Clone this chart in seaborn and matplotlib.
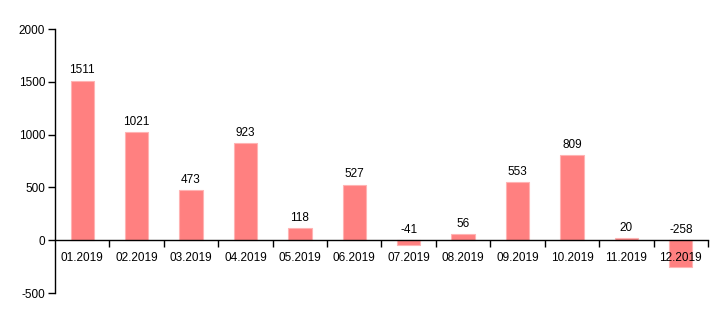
import matplotlib
matplotlib.use("Agg")
import matplotlib.pyplot as plt
import seaborn as sns
import numpy as np
import pandas as pd

months = ["01.2019", "02.2019", "03.2019", "04.2019", "05.2019", "06.2019",
          "07.2019", "08.2019", "09.2019", "10.2019", "11.2019", "12.2019"]
values = [1511, 1021, 473, 923, 118, 527, -41, 56, 553, 809, 20, -258]
y_ticks = [-500, 0, 500, 1000, 1500, 2000]

sns.set_style("white")
plt.rcParams["font.family"] = ["Liberation Sans", "DejaVu Sans"]
plt.rcParams["axes.unicode_minus"] = False

df = pd.DataFrame({"month": months, "value": values})

fig = plt.figure(figsize=(7.18, 3.25), dpi=100)
ax = fig.add_axes([55 / 718, 1 - 293 / 325, (708 - 55) / 718, (293 - 29) / 325])

sns.barplot(data=df, x="month", y="value", color="#ff8080", saturation=1,
            width=0.43, edgecolor="#ffb3b3", linewidth=0.8, ax=ax)

ax.set_ylim(-500, 2000)
ax.set_xlim(-0.5, len(months) - 0.5)
ax.set_yticks(y_ticks)
ax.set_xlabel("")
ax.set_ylabel("")
ax.set_axisbelow(False)

for s in ("top", "right"):
    ax.spines[s].set_visible(False)
ax.spines["bottom"].set_position(("data", 0))
for s in ("left", "bottom"):
    ax.spines[s].set_color("black")
    ax.spines[s].set_linewidth(1.0)

# category labels centred under bars, tick marks on band boundaries
ax.set_xticks(range(len(months)))
ax.set_xticklabels(months)
ax.set_xticks(np.arange(0.5, len(months), 1.0), minor=True)
ax.tick_params(axis="x", which="major", bottom=True, length=0, pad=8.5,
               labelsize=8.5, colors="black")
ax.tick_params(axis="x", which="minor", bottom=True, length=5, width=1,
               direction="out", color="black")
ax.tick_params(axis="y", left=True, length=5, width=1, direction="out",
               labelsize=8.5, colors="black", pad=2)

for i, v in enumerate(values):
    ax.annotate(str(v), xy=(i, max(v, 0)), xytext=(0, 3), textcoords="offset points",
                ha="center", va="bottom", fontsize=8.5, color="black")

fig.savefig("out.png", dpi=100)
